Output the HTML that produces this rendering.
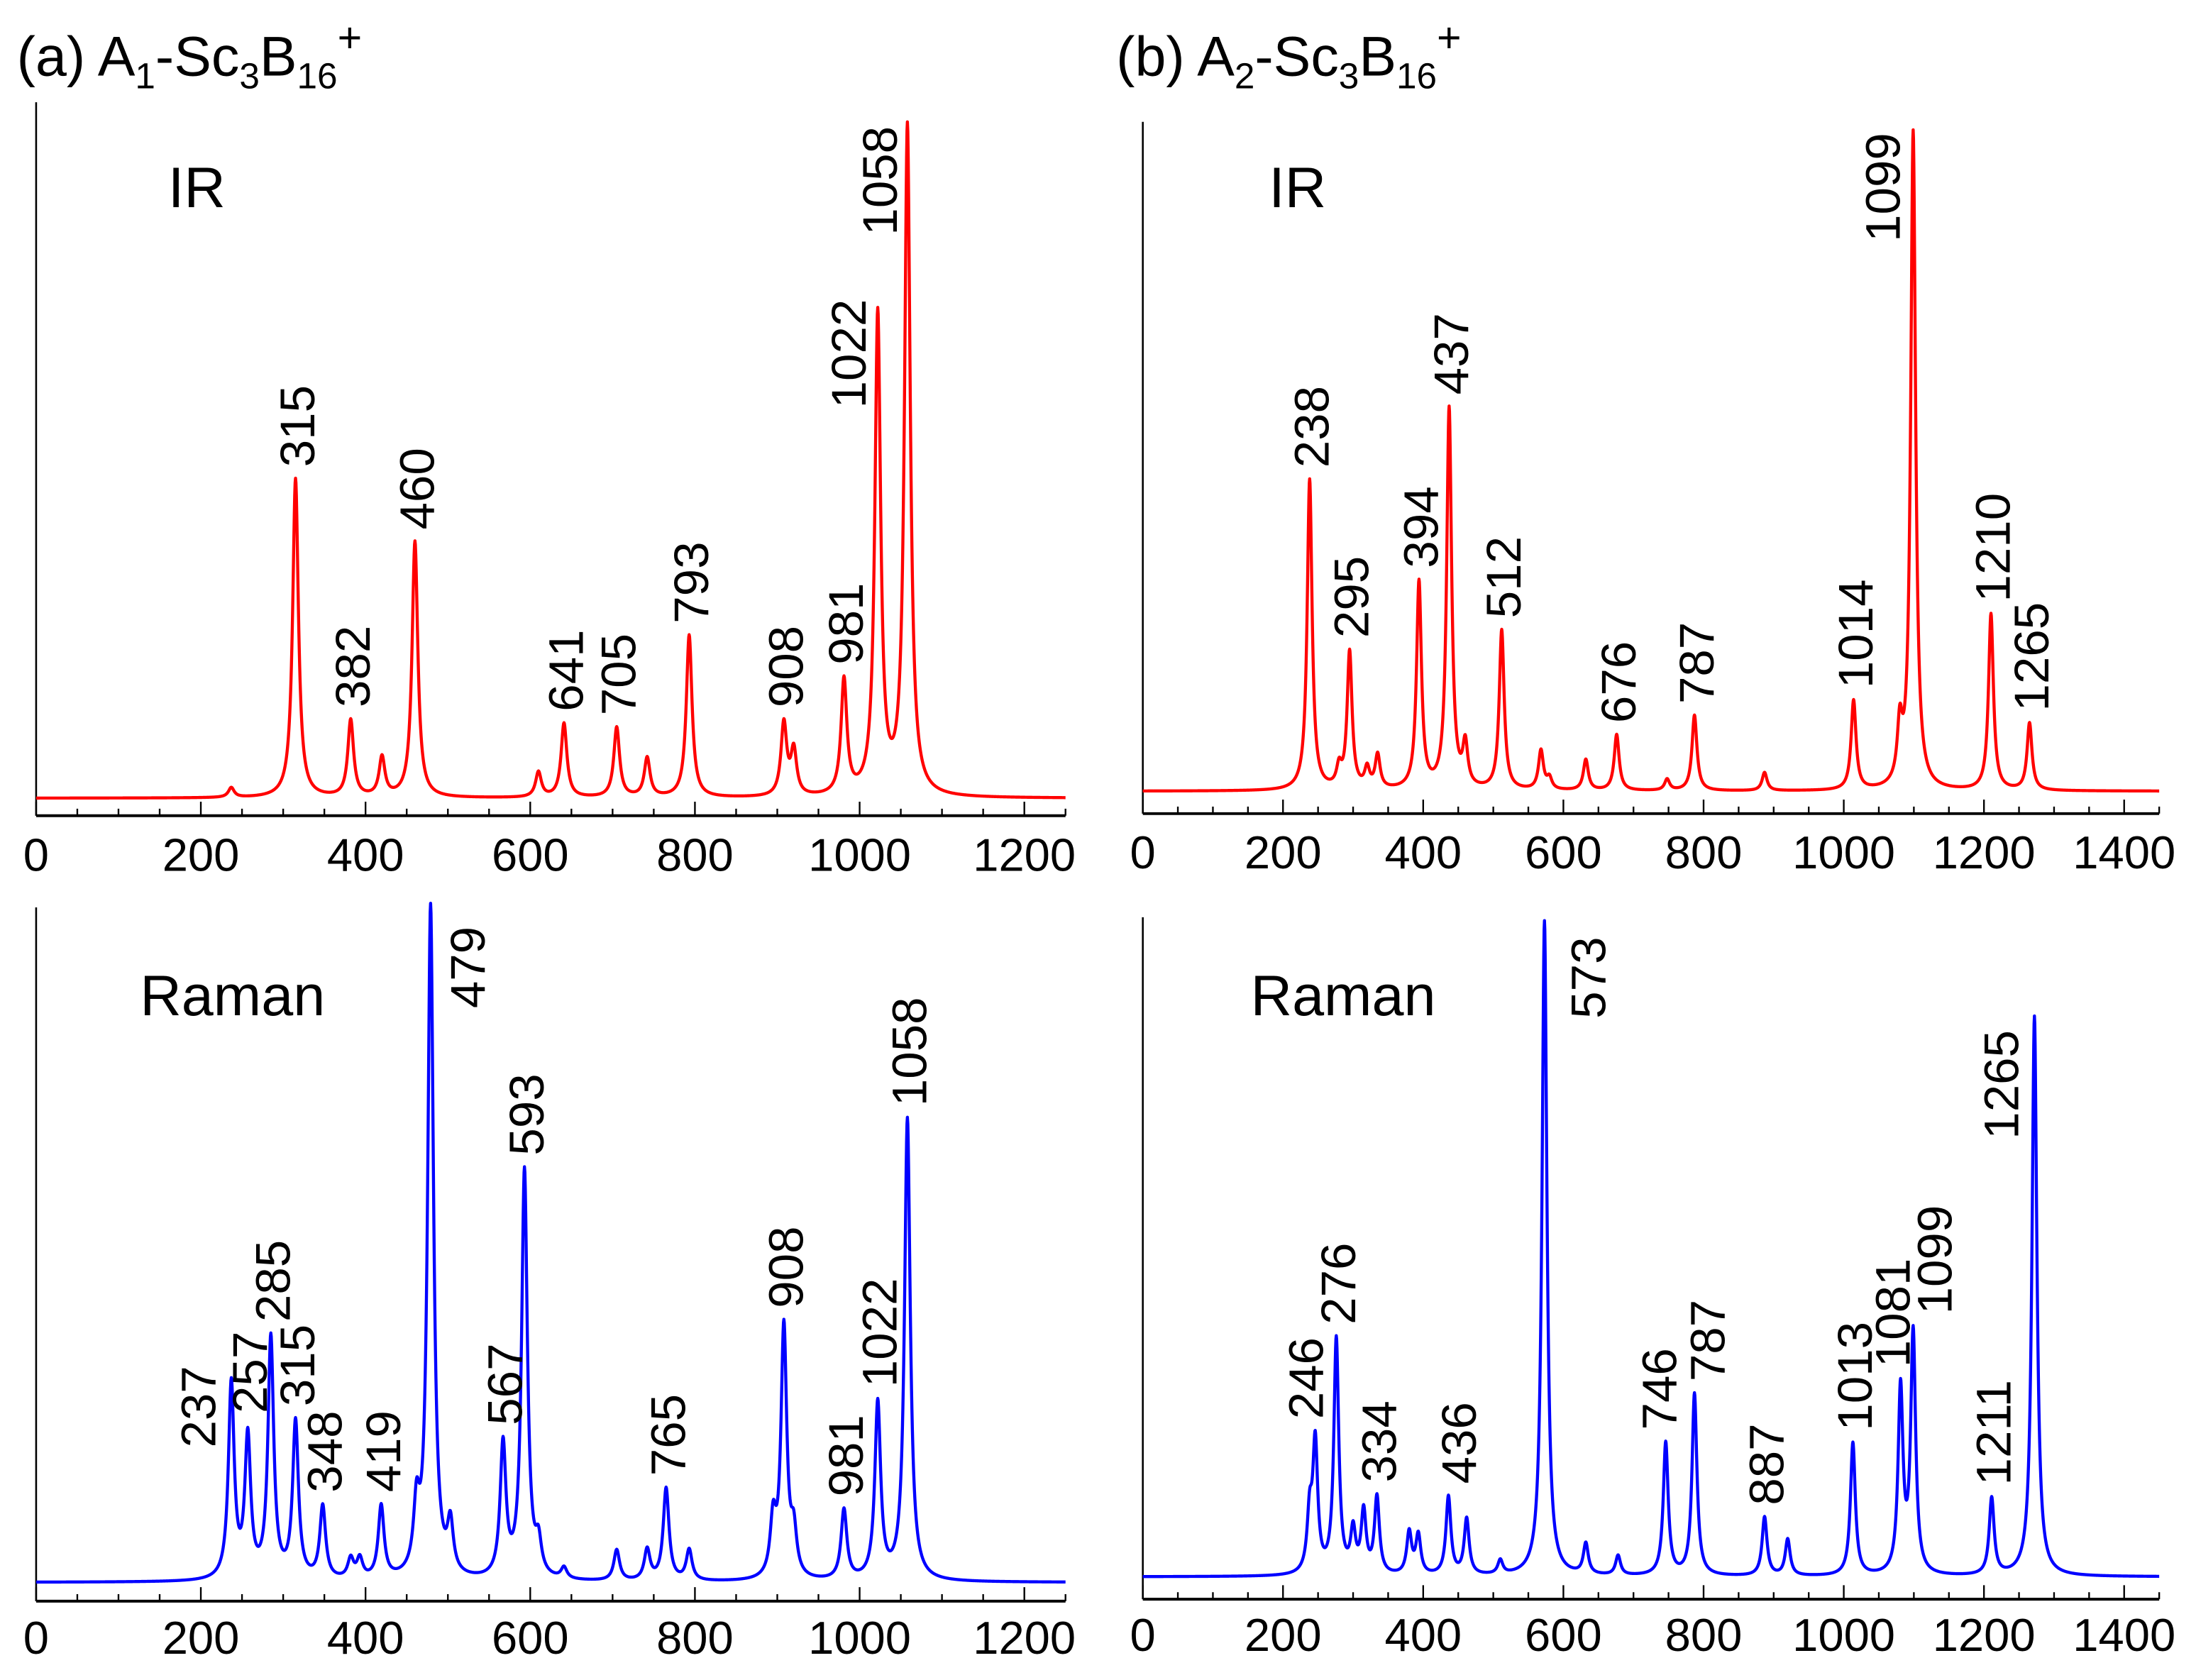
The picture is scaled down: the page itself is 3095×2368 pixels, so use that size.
<!DOCTYPE html>
<html><head><meta charset="utf-8"><style>
html,body{margin:0;padding:0;background:#fff;}
svg{display:block;}
text{font-family:"Liberation Sans",Arial,sans-serif;fill:#000;}
</style></head><body>
<svg id="fig" width="3095" height="2368" viewBox="0 0 1568 1199.7" preserveAspectRatio="none" xmlns="http://www.w3.org/2000/svg">
<text x="12" y="54" font-size="40">(a) A<tspan font-size="26" dy="9">1</tspan><tspan dy="-9">-Sc</tspan><tspan font-size="26" dy="9">3</tspan><tspan dy="-9">B</tspan><tspan font-size="26" dy="9">16</tspan><tspan font-size="30" dy="-26">+</tspan></text>
<text x="797" y="54" font-size="40">(b) A<tspan font-size="26" dy="9">2</tspan><tspan dy="-9">-Sc</tspan><tspan font-size="26" dy="9">3</tspan><tspan dy="-9">B</tspan><tspan font-size="26" dy="9">16</tspan><tspan font-size="30" dy="-26">+</tspan></text>
<text x="120" y="148" font-size="41">IR</text>
<text x="906" y="148" font-size="41">IR</text>
<text x="100" y="725" font-size="41">Raman</text>
<text x="893" y="725" font-size="41">Raman</text>
</svg>
<script>
// ---- data (wavenumber, intensity) ----
const irA_pos = [237,315,382,420,460,610,641,705,742,793,908,920,981,1022,1058];
const irA_int = [7,228,55,28,183,18,53,50,28,116,52,32,82,343,478];
const irA_labels = ["315","382","460","641","705","793","908","981","1022","1058"];
const irA_labelVals = [315,382,460,641,705,793,908,981,1022,1058];

const irB_pos = [238,280,295,320,335,394,437,460,512,568,580,632,676,748,787,887,1014,1080,1099,1210,1265];
const irB_int = [222,14,98,14,24,148,272,30,114,28,8,22,40,8,54,13,64,40,470,126,48];
const irB_labels = ["238","295","394","437","512","676","787","1014","1099","1210","1265"];
const irB_labelVals = [238,295,394,437,512,676,787,1014,1099,1210,1265];

const raA_pos = [237,257,285,315,348,382,393,419,462,479,503,567,593,610,641,705,742,765,793,895,908,920,981,1022,1058];
const raA_int = [140,100,172,112,52,14,14,52,45,480,35,95,292,22,8,22,22,66,22,40,180,30,50,126,330];
const raA_labels = ["237","257","285","315","348","419","479","567","593","765","908","981","1022","1058"];
const raA_labelVals = [237,257,285,315,348,419,479,567,593,765,908,981,1022,1058];

const raB_pos = [238,246,276,300,315,334,380,393,436,462,510,573,632,678,746,787,887,920,1013,1081,1099,1211,1272];
const raB_int = [40,92,168,30,44,55,30,28,56,40,10,468,22,14,95,130,42,26,95,132,172,55,400];
const raB_labels = ["246","276","334","436","573","746","787","887","1013","1081","1099","1211","1265"];
const raB_labelVals = [246,276,334,436,573,746,787,887,1013,1081,1099,1211,1272];

const ticksA = [0,200,400,600,800,1000,1200];
const ticksB = [0,200,400,600,800,1000,1200,1400];

// ---- layout ----
const NS = "http://www.w3.org/2000/svg";
const svg = document.getElementById('fig');
const panels = [
 {id:'ir-a', pos:irA_pos, ints:irA_int, labels:irA_labels, lv:irA_labelVals, color:'#ff0000', x0:25.8, k:0.588, xmax:1250, base:570, axisY:582.5, top:73, tickY:622, ticks:ticksA,
  adj:{"1022":[-22,80],"1058":[-21,89]}},
 {id:'ir-b', pos:irB_pos, ints:irB_int, labels:irB_labels, lv:irB_labelVals, color:'#ff0000', x0:816, k:0.5005, xmax:1450, base:565, axisY:581, top:87, tickY:620, ticks:ticksB,
  adj:{"1099":[-23,88]}},
 {id:'raman-a', pos:raA_pos, ints:raA_int, labels:raA_labels, lv:raA_labelVals, color:'#0000ff', x0:25.8, k:0.588, xmax:1250, base:1130, axisY:1143.4, top:648, tickY:1181, ticks:ticksA,
  adj:{"479":[25,83],"237":[-25,58],"257":[0,-2]}},
 {id:'raman-b', pos:raB_pos, ints:raB_int, labels:raB_labels, lv:raB_labelVals, color:'#0000ff', x0:816, k:0.5005, xmax:1450, base:1126, axisY:1142, top:655, tickY:1179, ticks:ticksB,
  adj:{"573":[30,78],"1265":[-25,96],"246":[-8,0],"1099":[14,0],"1081":[-7,0],"436":[6,0],"746":[-6,0],"787":[8,0]}}
];
const W = 4.2;
function spec(p, v){ let s=0; for(let i=0;i<p.pos.length;i++){ const d=v-p.pos[i]; s+=p.ints[i]*W*W/(d*d+W*W);} return s; }
function mk(tag, attrs){ const e=document.createElementNS(NS,tag); for(const a in attrs) e.setAttribute(a,attrs[a]); svg.appendChild(e); return e; }

panels.forEach(p=>{
  const xs = v => p.x0 + v*p.k;
  const ys = h => p.base - h;
  const ya = mk('line',{x1:p.x0,y1:p.top,x2:p.x0,y2:p.axisY,stroke:'#000','stroke-width':1.3});
  
  
  const xa = mk('line',{x1:p.x0,y1:p.axisY,x2:xs(p.xmax),y2:p.axisY,stroke:'#000','stroke-width':2});
  
  
  for(let v=0; v<=p.xmax; v+=50){
    const major = v%200===0;
    const t = mk('line',{x1:xs(v),y1:p.axisY-(major?10:5),x2:xs(v),y2:p.axisY,stroke:'#000','stroke-width':1.2});
    
    
  }
  p.ticks.forEach(v=>{
    const t = mk('text',{x:xs(v),y:p.tickY,'font-size':33,'text-anchor':'middle'});
    t.textContent = String(v);
    
    
  });
  let d='';
  for(let v=0; v<=p.xmax; v+=0.5){ d += (v===0?'M':'L') + xs(v).toFixed(2)+','+ys(spec(p,v)).toFixed(2); }
  const path = mk('path',{d:d,fill:'none',stroke:p.color,'stroke-width':2.2,'stroke-linejoin':'round'});
  
  
  p.labels.forEach((lab,i)=>{
    const v = p.lv[i];
    const a = p.adj[lab] || [0,0];
    const cx = xs(v) + a[0] + 1;
    const by = ys(spec(p,v)) - 8 + a[1];
    const t = mk('text',{x:0,y:0,'font-size':35,transform:`translate(${(cx+12.5).toFixed(1)},${by.toFixed(1)}) rotate(-90)`});
    t.textContent = lab;
    
    
  });
});
</script>
</body></html>
